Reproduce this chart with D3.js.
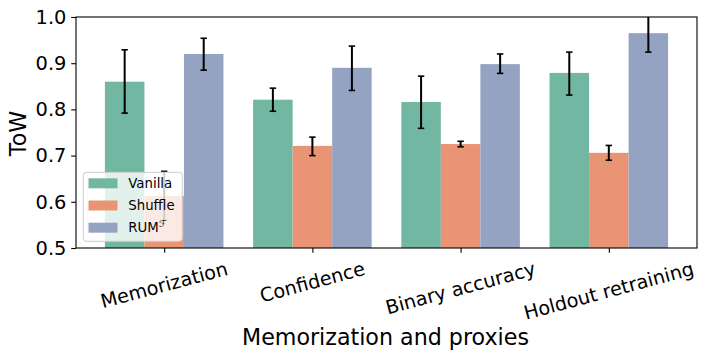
<!DOCTYPE html>
<html><head><meta charset="utf-8">
<script src="https://cdn.jsdelivr.net/npm/d3@7"></script>
<style>body{margin:0;background:#fff}svg{display:block;font-family:"DejaVu Sans",sans-serif}</style>
</head><body><svg id="c" width="707" height="358"></svg>
<script>
const categories = ["Memorization", "Confidence", "Binary accuracy", "Holdout retraining"];
const seriesNames = ["Vanilla", "Shuffle", "RUM"];
const vanilla   = [0.860, 0.821, 0.816, 0.879];
const vanillaLo = [0.792, 0.796, 0.759, 0.831];
const vanillaHi = [0.929, 0.846, 0.872, 0.924];
const shuffle   = [0.613, 0.721, 0.725, 0.706];
const shuffleLo = [0.560, 0.700, 0.719, 0.690];
const shuffleHi = [0.666, 0.740, 0.731, 0.722];
const rum       = [0.920, 0.890, 0.898, 0.965];
const rumLo     = [0.885, 0.841, 0.878, 0.924];
const rumHi     = [0.954, 0.937, 0.920, 1.007];
const yTicks = [0.5, 0.6, 0.7, 0.8, 0.9, 1.0];
const colors = ["#72b7a1", "#e99575", "#95a3c3"];

const series = [
  {name: "Vanilla", v: vanilla, lo: vanillaLo, hi: vanillaHi},
  {name: "Shuffle", v: shuffle, lo: shuffleLo, hi: shuffleHi},
  {name: "RUM", v: rum, lo: rumLo, hi: rumHi}
];

const svg = d3.select("#c");
const L = 76, R = 697, T = 17, B = 248;
const x = d3.scaleLinear().domain([-0.595, 3.595]).range([L, R]);
const y = d3.scaleLinear().domain([0.5, 1.0]).range([B, T]);
const groupW = 0.8, barW = groupW / 3;

svg.append("defs").append("clipPath").attr("id", "clip")
  .append("rect").attr("x", L).attr("y", T).attr("width", R - L).attr("height", B - T);

const plot = svg.append("g").attr("clip-path", "url(#clip)");

series.forEach((s, si) => {
  const off = -groupW / 2 + barW * si;
  plot.selectAll(null).data(categories).enter().append("rect")
    .attr("x", (d, i) => x(i + off))
    .attr("width", (d, i) => x(i + off + barW) - x(i + off))
    .attr("y", (d, i) => y(s.v[i]))
    .attr("height", (d, i) => y(0.5) - y(s.v[i]))
    .attr("fill", colors[si]);
});
series.forEach((s, si) => {
  const off = -groupW / 2 + barW * si + barW / 2;
  const g = plot.selectAll(null).data(categories).enter().append("g");
  g.append("line").attr("x1", (d, i) => x(i + off)).attr("x2", (d, i) => x(i + off))
    .attr("y1", (d, i) => y(s.lo[i])).attr("y2", (d, i) => y(s.hi[i]))
    .attr("stroke", "#000").attr("stroke-width", 2);
  [s.lo, s.hi].forEach(arr => {
    g.append("line").attr("x1", (d, i) => x(i + off) - 3.2).attr("x2", (d, i) => x(i + off) + 3.2)
      .attr("y1", (d, i) => y(arr[i])).attr("y2", (d, i) => y(arr[i]))
      .attr("stroke", "#000").attr("stroke-width", 1.6);
  });
});

// frame
svg.append("rect").attr("x", L).attr("y", T).attr("width", R - L).attr("height", B - T)
  .attr("fill", "none").attr("stroke", "#000").attr("stroke-width", 1.1);

// y axis
const yAxis = svg.append("g").attr("transform", `translate(${L},0)`)
  .call(d3.axisLeft(y).tickValues(yTicks).tickFormat(d3.format(".1f")).tickSize(4.8).tickPadding(4.8));
yAxis.select(".domain").remove();
yAxis.selectAll("line").attr("stroke", "#000").attr("stroke-width", 1.1);
yAxis.selectAll("text").attr("font-size", "19.4px").attr("fill", "#000").attr("font-family", "DejaVu Sans");

// x axis ticks
const xAxis = svg.append("g").attr("transform", `translate(0,${B})`)
  .call(d3.axisBottom(x).tickValues([0, 1, 2, 3]).tickFormat(() => "").tickSize(4.8));
xAxis.select(".domain").remove();
xAxis.selectAll("line").attr("stroke", "#000").attr("stroke-width", 1.1);

const fs = 19.2, ang = 15 * Math.PI / 180, topY = 257.5, h = fs * 1.16;
categories.forEach((c, i) => {
  const t = svg.append("text").text(c).attr("font-size", fs + "px").attr("text-anchor", "middle")
    .attr("dominant-baseline", "central").attr("fill", "#000");
  const len = t.node().getComputedTextLength();
  const cy = topY + (len * Math.sin(ang) + h * Math.cos(ang)) / 2;
  t.attr("transform", `translate(${x(i)},${cy}) rotate(-15)`);
});

svg.append("text").text("Memorization and proxies").attr("x", (L + R) / 2 - 1).attr("y", 337)
  .attr("font-size", "22.2px").attr("text-anchor", "middle").attr("dominant-baseline", "central").attr("fill", "#000");
svg.append("text").text("ToW").attr("transform", `translate(18,${(T + B) / 2 + 1}) rotate(-90)`)
  .attr("font-size", "22.2px").attr("text-anchor", "middle").attr("dominant-baseline", "central").attr("fill", "#000");

// legend
const lg = svg.append("g");
lg.append("rect").attr("x", 83.3).attr("y", 172.3).attr("width", 99).attr("height", 69).attr("rx", 3)
  .attr("fill", "rgba(255,255,255,0.8)").attr("stroke", "#cccccc").attr("stroke-width", 1);
seriesNames.forEach((n, i) => {
  const yy = 178.3 + i * 22.2;
  lg.append("rect").attr("x", 88.5).attr("y", yy).attr("width", 29).attr("height", 10).attr("fill", colors[i]);
  const t = lg.append("text").attr("x", 128.3).attr("y", yy + 5).attr("font-size", "13.3px")
    .attr("dominant-baseline", "central").attr("fill", "#000").text(n);
  if (n === "RUM") {
    t.append("tspan").text("ℱ").attr("font-size", "9.5px").attr("font-style", "italic").attr("dy", -5);
  }
});
</script></body></html>
